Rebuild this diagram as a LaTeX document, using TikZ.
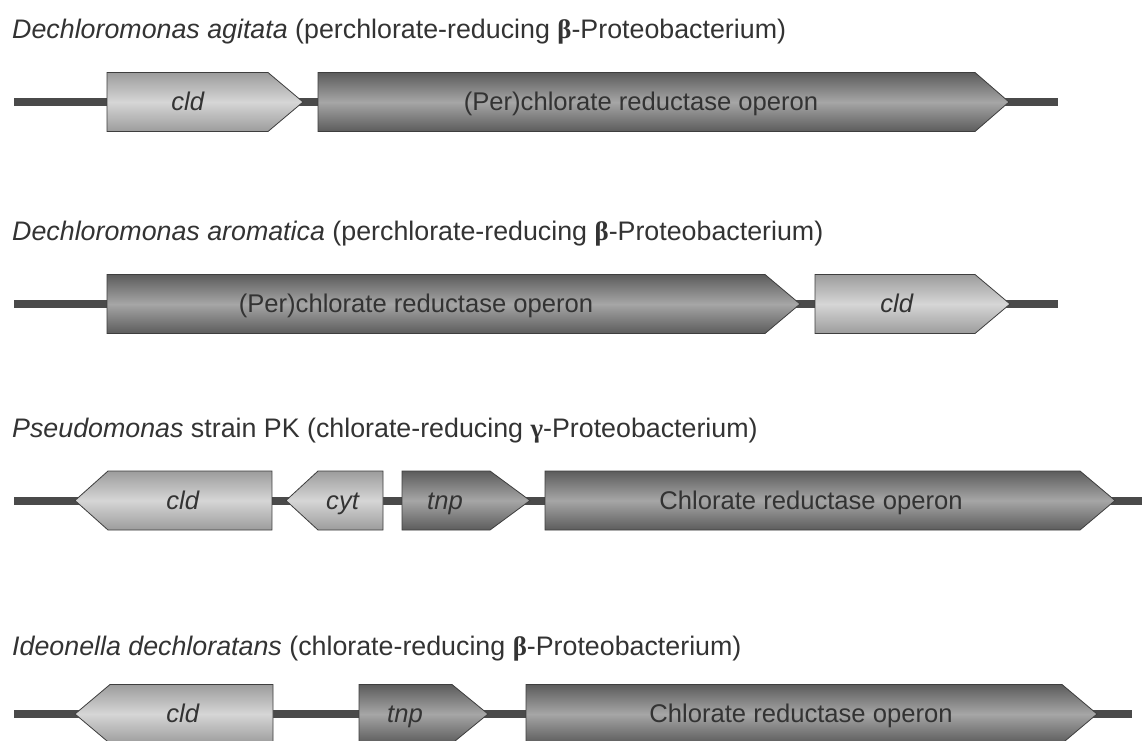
\documentclass[tikz,border=0pt]{standalone}
\usepackage{fontspec}
\setmainfont{Liberation Sans}
\newfontfamily\grkfont{Liberation Serif}
\definecolor{txt}{HTML}{333333}
\definecolor{bbone}{HTML}{4A4A4A}
\definecolor{edge}{HTML}{3E3E3E}
\definecolor{lightE}{HTML}{9C9C9C}
\definecolor{lightM}{HTML}{D6D6D6}
\definecolor{darkE}{HTML}{5C5C5C}
\definecolor{darkM}{HTML}{A6A6A6}
\tikzset{
  backbone/.style={draw=bbone, line width=8pt},
  lightgene/.style={draw=edge, line width=0.8pt, top color=lightE, bottom color=lightE, middle color=lightM},
  darkgene/.style={draw=edge, line width=0.8pt, top color=darkE, bottom color=darkE, middle color=darkM},
  genelabel/.style={inner sep=0pt, anchor=base, text=txt, font=\fontsize{25.6}{30}\selectfont},
  title/.style={inner sep=0pt, anchor=base west, text=txt, font=\fontsize{26.8}{32}\selectfont},
}
% name, x-left, x-body-end, x-tip, y-centre, style, label-x, label
\newcommand\generight[8]{%
  \path[#6] (#2,#5-29.5) -- (#3,#5-29.5) -- (#4,#5) -- (#3,#5+29.5) -- (#2,#5+29.5) -- cycle;
  \node[genelabel] (#1) at (#7,#5+8.5) {#8};}
% name, x-tip, x-body-start, x-right, y-centre, style, label-x, label
\newcommand\geneleft[8]{%
  \path[#6] (#2,#5) -- (#3,#5-29.5) -- (#4,#5-29.5) -- (#4,#5+29.5) -- (#3,#5+29.5) -- cycle;
  \node[genelabel] (#1) at (#7,#5+8.5) {#8};}
\newcommand\grb{{\grkfont\bfseries β}}
\newcommand\grg{{\grkfont\bfseries γ}}
\begin{document}
\begin{tikzpicture}[x=1pt,y=-1pt]
\useasboundingbox (0,0) rectangle (1142,740);
\fill[white] (0,0) rectangle (1142,740);

% Row 1
\node[title] (t1) at (12,38) {\textit{Dechloromonas agitata} (perchlorate-reducing \grb-Proteobacterium)};
\coordinate (a1) at (14,102);
\coordinate (b1) at (1058,102);
\draw[backbone] (a1) -- (b1);
\generight{r1cld}{107}{268}{303}{102}{lightgene}{188}{\textit{cld}}
\generight{r1op}{318}{975}{1009}{102}{darkgene}{641}{(Per)chlorate reductase operon}

% Row 2
\node[title] (t2) at (12,240) {\textit{Dechloromonas aromatica} (perchlorate-reducing \grb-Proteobacterium)};
\coordinate (a2) at (14,304);
\coordinate (b2) at (1058,304);
\draw[backbone] (a2) -- (b2);
\generight{r2op}{107}{765}{800}{304}{darkgene}{416}{(Per)chlorate reductase operon}
\generight{r2cld}{815}{975}{1010}{304}{lightgene}{897}{\textit{cld}}

% Row 3
\node[title] (t3) at (12,437) {\textit{Pseudomonas} strain PK (chlorate-reducing \grg-Proteobacterium)};
\coordinate (a3) at (14,500.5);
\coordinate (b3) at (1142,500.5);
\draw[backbone] (a3) -- (b3);
\geneleft{r3cld}{75}{108}{272}{500.5}{lightgene}{183}{\textit{cld}}
\geneleft{r3cyt}{286}{318}{383}{500.5}{lightgene}{343}{\textit{cyt}}
\generight{r3tnp}{402}{490}{530}{500.5}{darkgene}{445}{\textit{tnp}}
\generight{r3op}{545}{1080}{1115}{500.5}{darkgene}{811}{Chlorate reductase operon}

% Row 4
\node[title] (t4) at (12,655) {\textit{Ideonella dechloratans} (chlorate-reducing \grb-Proteobacterium)};
\coordinate (a4) at (14,714);
\coordinate (b4) at (1132,714);
\draw[backbone] (a4) -- (b4);
\geneleft{r4cld}{75}{110}{273}{714}{lightgene}{183}{\textit{cld}}
\generight{r4tnp}{359}{452}{488}{714}{darkgene}{405}{\textit{tnp}}
\generight{r4op}{526}{1062}{1097}{714}{darkgene}{801}{Chlorate reductase operon}
\end{tikzpicture}
\end{document}
